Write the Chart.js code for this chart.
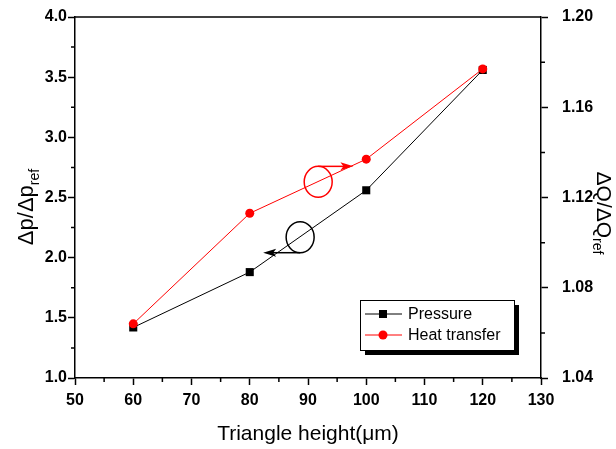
<!DOCTYPE html>
<html>
<head>
<meta charset="utf-8">
<script src="https://cdn.jsdelivr.net/npm/chart.js@4.4.1/dist/chart.umd.min.js"></script>
<style>
  html, body { margin: 0; padding: 0; background: #fff; }
  #wrap { width: 616px; height: 449px; position: relative; }
</style>
</head>
<body>
<div id="wrap"><canvas id="chart" width="616" height="449"></canvas></div>
<script>
// Data
const heights = [60, 80, 100, 120];
const pressureRatio = [1.42, 1.88, 2.56, 3.56];
const heatRatio = [1.064, 1.113, 1.137, 1.177];

const xTicks = [50, 60, 70, 80, 90, 100, 110, 120, 130];
const leftTicks = [1.0, 1.5, 2.0, 2.5, 3.0, 3.5, 4.0];
const rightTicks = [1.04, 1.08, 1.12, 1.16, 1.20];

const FONT = "Arial, 'Liberation Sans', sans-serif";

// Circled-series markers: ellipse centre (x, left-axis y) and arrow tip x
const markers = [
    { color: '#ff0000', cx: 91.75, cy: 2.63, tipX: 97.8, side: 'top' },
    { color: '#000000', cx: 88.65, cy: 2.17, tipX: 82.3, side: 'bottom' }
];

// Minor ticks, axis frame, annotations, titles and legend
const decorations = {
    id: 'decorations',
    afterDraw(chart) {
        const ctx = chart.ctx;
        const { left, right, top, bottom } = chart.chartArea;
        const x = chart.scales.x, y = chart.scales.y, y1 = chart.scales.y1;
        ctx.save();
        ctx.strokeStyle = '#000';
        ctx.lineWidth = 1.5;

        // top frame line
        ctx.beginPath();
        ctx.moveTo(left, top); ctx.lineTo(right, top);
        ctx.stroke();

        // minor ticks (outside)
        ctx.beginPath();
        for (let v = 55; v < 130; v += 10) {
            const px = x.getPixelForValue(v);
            ctx.moveTo(px, bottom); ctx.lineTo(px, bottom + 4);
        }
        for (let v = 1.25; v < 4; v += 0.5) {
            const py = y.getPixelForValue(v);
            ctx.moveTo(left, py); ctx.lineTo(left - 4, py);
        }
        for (let v = 1.06; v < 1.2; v += 0.04) {
            const py = y1.getPixelForValue(v);
            ctx.moveTo(right, py); ctx.lineTo(right + 4, py);
        }
        ctx.stroke();

        // ellipses with arrows
        markers.forEach(m => {
            const cx = x.getPixelForValue(m.cx);
            const cy = y.getPixelForValue(m.cy);
            const rx = 14, ry = 15.5;
            ctx.strokeStyle = m.color;
            ctx.fillStyle = m.color;
            ctx.lineWidth = 1.5;
            ctx.beginPath();
            ctx.ellipse(cx, cy, rx, ry, 0, 0, Math.PI * 2);
            ctx.stroke();
            const ay = m.side === 'top' ? cy - ry : cy + ry;
            const tx = x.getPixelForValue(m.tipX);
            const dir = tx > cx ? 1 : -1;
            ctx.beginPath();
            ctx.moveTo(cx, ay); ctx.lineTo(tx - dir * 8, ay);
            ctx.stroke();
            ctx.beginPath();
            ctx.moveTo(tx, ay);
            ctx.lineTo(tx - dir * 13, ay - 4);
            ctx.lineTo(tx - dir * 10, ay);
            ctx.lineTo(tx - dir * 13, ay + 4);
            ctx.closePath();
            ctx.fill();
        });

        // axis titles
        ctx.fillStyle = '#000';
        ctx.textBaseline = 'alphabetic';
        const drawSub = (main, sub, size, drop) => {
            ctx.font = size + 'px ' + FONT;
            const w1 = ctx.measureText(main).width;
            ctx.font = Math.round(size * 0.65) + 'px ' + FONT;
            const w2 = ctx.measureText(sub).width;
            const start = -(w1 + w2) / 2;
            ctx.font = size + 'px ' + FONT;
            ctx.fillText(main, start, 0);
            ctx.font = Math.round(size * 0.65) + 'px ' + FONT;
            ctx.fillText(sub, start + w1, drop);
        };
        ctx.save();
        ctx.translate(33, 207);
        ctx.rotate(-Math.PI / 2);
        drawSub('\u0394p/\u0394p', 'ref', 22, 6);
        ctx.restore();

        ctx.save();
        ctx.translate(597, 213);
        ctx.rotate(Math.PI / 2);
        drawSub('\u0394Q/\u0394Q', 'ref', 21, 4);
        ctx.restore();

        ctx.font = '21px ' + FONT;
        ctx.textAlign = 'center';
        ctx.fillText('Triangle height(\u03bcm)', (left + right) / 2, 440);

        // legend box with shadow
        const lx = 360, ly = 300, lw = 154, lh = 50;
        ctx.fillStyle = '#000';
        ctx.fillRect(lx + 5, ly + 5, lw, lh);
        ctx.fillStyle = '#fff';
        ctx.fillRect(lx, ly, lw, lh);
        ctx.lineWidth = 1;
        ctx.strokeStyle = '#000';
        ctx.strokeRect(lx + 0.5, ly + 0.5, lw, lh);

        ctx.textAlign = 'left';
        ctx.textBaseline = 'middle';
        ctx.font = '16px ' + FONT;
        const entries = [
            { label: 'Pressure', color: '#000', shape: 'rect', yy: 314 },
            { label: 'Heat transfer', color: '#ff0000', shape: 'circle', yy: 335 }
        ];
        entries.forEach(e => {
            ctx.strokeStyle = e.color;
            ctx.fillStyle = e.color;
            ctx.lineWidth = 1;
            ctx.beginPath();
            ctx.moveTo(365, e.yy); ctx.lineTo(402, e.yy);
            ctx.stroke();
            ctx.beginPath();
            if (e.shape === 'rect') ctx.rect(379, e.yy - 4, 8, 8);
            else ctx.arc(383, e.yy, 4.5, 0, Math.PI * 2);
            ctx.fill();
            ctx.fillStyle = '#000';
            ctx.fillText(e.label, 408, e.yy + 1);
        });
        ctx.restore();
    }
};

// fixed axis box: no automatic label overhang padding
const fitY = s => { s.width = 75; s.paddingTop = 0; s.paddingBottom = 0; };

const ctx = document.getElementById('chart').getContext('2d');
new Chart(ctx, {
    type: 'line',
    data: {
        datasets: [
            {
                label: 'Heat transfer',
                data: heights.map((h, i) => ({ x: h, y: heatRatio[i] })),
                yAxisID: 'y1',
                borderColor: '#ff0000',
                backgroundColor: '#ff0000',
                borderWidth: 1,
                pointStyle: 'circle',
                pointRadius: 4.5,
                pointBorderWidth: 0,
                tension: 0,
                order: 0
            },
            {
                label: 'Pressure',
                data: heights.map((h, i) => ({ x: h, y: pressureRatio[i] })),
                yAxisID: 'y',
                borderColor: '#000',
                backgroundColor: '#000',
                borderWidth: 1,
                pointStyle: 'rect',
                pointRadius: 5.7,
                pointBorderWidth: 0,
                tension: 0,
                order: 1
            }
        ]
    },
    options: {
        responsive: false,
        animation: false,
        layout: { padding: { top: 17, left: 0, right: 0, bottom: 0 } },
        plugins: { legend: { display: false }, tooltip: { enabled: false } },
        scales: {
            x: {
                type: 'linear', min: 50, max: 130,
                afterBuildTicks: s => { s.ticks = xTicks.map(v => ({ value: v })); },
                afterFit: s => { s.height = 71; s.paddingLeft = 0; s.paddingRight = 0; },
                grid: { drawOnChartArea: false, tickLength: 7, tickWidth: 1.5, tickColor: '#000' },
                border: { color: '#000', width: 1.5 },
                ticks: { color: '#000', font: { family: FONT, size: 16, weight: 'bold' }, padding: 6, maxRotation: 0 }
            },
            y: {
                position: 'left', min: 1.0, max: 4.0,
                afterBuildTicks: s => { s.ticks = leftTicks.map(v => ({ value: v })); },
                afterFit: fitY,
                grid: { drawOnChartArea: false, tickLength: 7, tickWidth: 1.5, tickColor: '#000' },
                border: { color: '#000', width: 1.5 },
                ticks: { color: '#000', font: { family: FONT, size: 16, weight: 'bold' }, padding: 1, callback: v => v.toFixed(1) }
            },
            y1: {
                position: 'right', min: 1.04, max: 1.20,
                afterBuildTicks: s => { s.ticks = rightTicks.map(v => ({ value: v })); },
                afterFit: fitY,
                grid: { drawOnChartArea: false, tickLength: 7, tickWidth: 1.5, tickColor: '#000' },
                border: { color: '#000', width: 1.5 },
                ticks: { color: '#000', font: { family: FONT, size: 16, weight: 'bold' }, padding: 14, callback: v => v.toFixed(2) }
            }
        }
    },
    plugins: [decorations]
});
</script>
</body>
</html>
